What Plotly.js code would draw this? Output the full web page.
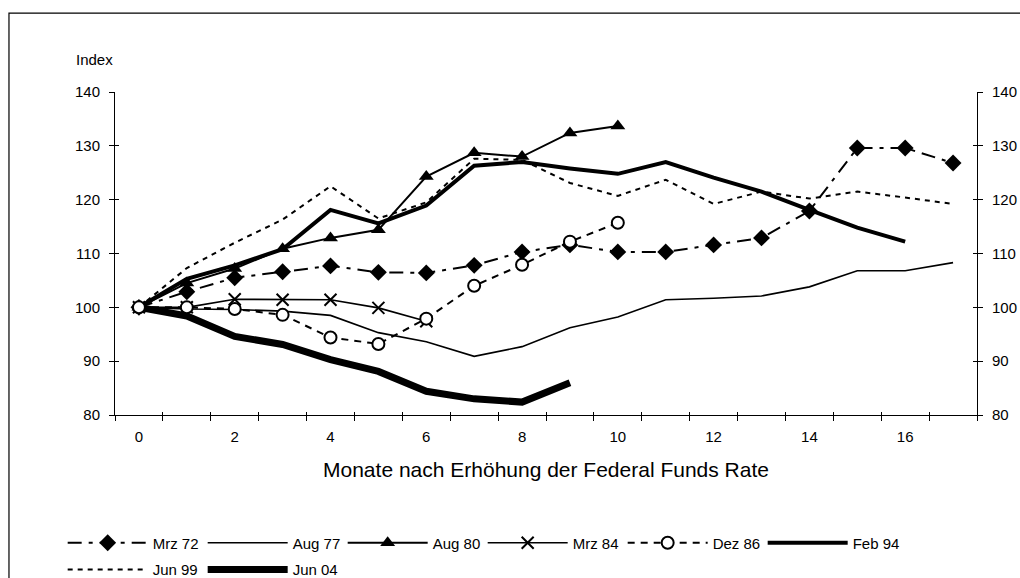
<!DOCTYPE html>
<html>
<head>
<meta charset="utf-8">
<script src="https://cdn.plot.ly/plotly-3.0.1.min.js"></script>
<style>html,body{margin:0;padding:0;background:#fff;}#chart{width:1020px;height:578px;}</style>
</head>
<body>
<div id="chart"></div>
<script>
// Months after the rate hike (x categories)
var months = [0,1,2,3,4,5,6,7,8,9,10,11,12,13,14,15,16,17];
var tickVals = [0,2,4,6,8,10,12,14,16];
var tickLabels = ["0","2","4","6","8","10","12","14","16"];
var yTicks = [80,90,100,110,120,130,140];

var seriesNames = ["Mrz 72","Aug 77","Aug 80","Mrz 84","Dez 86","Feb 94","Jun 99","Jun 04"];
var mrz72 = [100,102.9,105.5,106.6,107.7,106.5,106.4,107.8,110.3,111.6,110.3,110.3,111.6,112.9,117.9,129.6,129.6,126.8];
var aug77 = [100,99.7,99.6,99.3,98.5,95.3,93.6,90.9,92.7,96.2,98.2,101.4,101.7,102.1,103.8,106.8,106.8,108.3];
var aug80 = [100,104.5,107.2,110.9,112.9,114.4,124.3,128.7,128.0,132.4,133.7];
var mrz84 = [100,100,101.5,101.4,101.4,99.9,97.4];
var dez86 = [100,100,99.7,98.6,94.4,93.2,97.9,104.0,107.9,112.2,115.7];
var feb94 = [100,105.3,107.8,110.8,118.1,115.6,118.9,126.3,127.0,125.8,124.8,127.0,124.1,121.5,118.1,114.8,112.2];
var jun99 = [100,107.3,112.0,116.3,122.5,116.5,119.5,127.6,127.4,123.1,120.7,123.7,119.2,121.5,120.2,121.5,120.4,119.2];
var jun04 = [100,98.4,94.6,93.1,90.3,88.1,84.4,83.0,82.4,86.0];

function xs(arr){ return months.slice(0, arr.length); }

var FONT = "Liberation Sans, Arial, sans-serif";
var traces = [
  {name:seriesNames[1], y:aug77, x:xs(aug77), mode:"lines", line:{color:"#000",width:1.6}, legendrank:2, legend:"legend"},
  {name:seriesNames[6], y:jun99, x:xs(jun99), mode:"lines", line:{color:"#000",width:2,dash:"5px,5px"}, legendrank:7, legend:"legend2"},
  {name:seriesNames[3], y:mrz84, x:xs(mrz84), mode:"lines+markers", line:{color:"#000",width:1.6},
    marker:{symbol:"x-thin-open",size:12,color:"#000",line:{width:2,color:"#000"}}, legendrank:4, legend:"legend"},
  {name:seriesNames[0], y:mrz72, x:xs(mrz72), mode:"lines+markers", line:{color:"#000",width:2,dash:"14px,7px,4px,7px"},
    marker:{symbol:"diamond",size:13,color:"#000"}, legendrank:1, legend:"legend"},
  {name:seriesNames[2], y:aug80, x:xs(aug80), mode:"lines+markers", line:{color:"#000",width:2},
    marker:{symbol:"triangle-up",size:13,color:"#000"}, legendrank:3, legend:"legend"},
  {name:seriesNames[5], y:feb94, x:xs(feb94), mode:"lines", line:{color:"#000",width:4}, legendrank:6, legend:"legend"},
  {name:seriesNames[7], y:jun04, x:xs(jun04), mode:"lines", line:{color:"#000",width:7}, legendrank:8, legend:"legend2"},
  {name:seriesNames[4], y:dez86, x:xs(dez86), mode:"lines+markers", line:{color:"#000",width:2,dash:"7px,6px"},
    marker:{symbol:"circle",size:12,color:"#fff",line:{width:2,color:"#000"}}, legendrank:5, legend:"legend"}
];

var legendCommon = {orientation:"h", xanchor:"left", yanchor:"top",
  font:{family:FONT,size:15,color:"#000"}, itemwidth:80, entrywidth:45, entrywidthmode:"pixels",
  traceorder:"normal", bgcolor:"rgba(0,0,0,0)", itemclick:false};

var axisCommon = {range:[-0.5,17.5], showgrid:false, zeroline:false, fixedrange:true, automargin:false};
var layout = {
  width:1020, height:578,
  margin:{l:115, r:43, t:92, b:162.5, autoexpand:false},
  paper_bgcolor:"#fff", plot_bgcolor:"#fff",
  font:{family:FONT, size:15, color:"#000"},
  showlegend:true,
  legend:Object.assign({}, legendCommon, {x:-0.0607, y:-0.345}),
  legend2:Object.assign({}, legendCommon, {x:-0.0607, y:-0.428}),
  xaxis:Object.assign({}, axisCommon, {
    tickmode:"array", tickvals:tickVals, ticktext:tickLabels, ticks:"", showline:true,
    linecolor:"#000", linewidth:1, tickfont:{family:FONT,size:15,color:"#000"}, ticklabelstandoff:8,
    title:{text:"Monate nach Erhöhung der Federal Funds Rate", font:{family:FONT,size:21,color:"#000"}, standoff:18}
  }),
  xaxis2:Object.assign({}, axisCommon, {overlaying:"x", anchor:"y", side:"bottom",
    tickmode:"linear", tick0:-0.5, dtick:1, ticks:"outside", ticklen:5, tickwidth:1, tickcolor:"#000", showticklabels:false, showline:false}),
  xaxis3:Object.assign({}, axisCommon, {overlaying:"x", anchor:"y", side:"bottom",
    tickmode:"linear", tick0:-0.5, dtick:1, ticks:"inside", ticklen:3, tickwidth:1, tickcolor:"#000", showticklabels:false, showline:false}),
  yaxis:{range:[80,140], tickmode:"array", tickvals:yTicks, showgrid:false, zeroline:false, showline:true, automargin:false,
    linecolor:"#000", linewidth:1, ticks:"outside", ticklen:5, tickcolor:"#000", tickfont:{family:FONT,size:15,color:"#000"},
    ticklabelstandoff:6, fixedrange:true},
  yaxis2:{range:[80,140], overlaying:"y", side:"right", anchor:"x", tickmode:"array", tickvals:yTicks, showgrid:false, zeroline:false,
    showline:true, linecolor:"#000", linewidth:1, ticks:"outside", ticklen:5, tickcolor:"#000", automargin:false,
    tickfont:{family:FONT,size:15,color:"#000"}, ticklabelstandoff:6, fixedrange:true},
  yaxis3:{range:[80,140], overlaying:"y", side:"left", anchor:"x", tickmode:"array", tickvals:yTicks, showgrid:false, zeroline:false,
    showline:false, ticks:"inside", ticklen:4, tickcolor:"#000", showticklabels:false, fixedrange:true, automargin:false},
  yaxis4:{range:[80,140], overlaying:"y", side:"right", anchor:"x", tickmode:"array", tickvals:yTicks, showgrid:false, zeroline:false,
    showline:false, ticks:"inside", ticklen:4, tickcolor:"#000", showticklabels:false, fixedrange:true, automargin:false},
  annotations:[{text:"Index", xref:"paper", yref:"paper", x:-0.047, y:1.1, xanchor:"left", yanchor:"middle",
    showarrow:false, font:{family:FONT,size:15,color:"#000"}}],
  shapes:[{type:"rect", xref:"paper", yref:"paper", x0:-0.123, x1:1.3, y0:-0.7, y1:1.244,
    line:{color:"#000",width:1.2}, fillcolor:"rgba(0,0,0,0)", layer:"below"}]
};

// invisible helper traces so that overlay axes are drawn
traces.push({x:[0], y:[100], xaxis:"x2", yaxis:"y2", mode:"markers", marker:{opacity:0}, showlegend:false, hoverinfo:"skip"});
traces.push({x:[0], y:[100], xaxis:"x3", yaxis:"y3", mode:"markers", marker:{opacity:0}, showlegend:false, hoverinfo:"skip"});
traces.push({x:[0], y:[100], xaxis:"x", yaxis:"y4", mode:"markers", marker:{opacity:0}, showlegend:false, hoverinfo:"skip"});

Plotly.newPlot("chart", traces, layout, {staticPlot:true, displayModeBar:false});
</script>
</body>
</html>
